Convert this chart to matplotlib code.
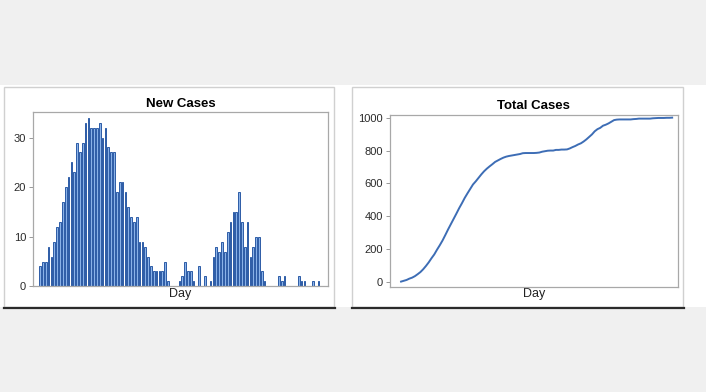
import numpy as np
import matplotlib
matplotlib.use('Agg')
import matplotlib.pyplot as plt
from matplotlib.patches import Rectangle
from matplotlib.lines import Line2D

plt.rcParams['font.family'] = ['Liberation Sans', 'DejaVu Sans']

# data
new_cases = [4, 5, 5, 8, 6, 9, 12, 13, 17, 20,
             22, 25, 23, 29, 27, 29, 33, 34, 32, 32,
             32, 33, 30, 32, 28, 27, 27, 19, 21, 21,
             19, 16, 14, 13, 14, 9, 9, 8, 6, 4,
             3, 3, 3, 3, 5, 1, 0, 0, 0, 1,
             2, 5, 3, 3, 1, 0, 4, 0, 2, 0,
             1, 6, 8, 7, 9, 7, 11, 13, 15, 15,
             19, 13, 8, 13, 6, 8, 10, 10, 3, 1,
             0, 0, 0, 0, 2, 1, 2, 0, 0, 0,
             0, 2, 1, 1, 0, 0, 1, 0, 1]
total_cases = [4, 9, 14, 22, 28, 37, 49, 62, 79, 99,
               121, 146, 169, 198, 225, 254, 287, 321, 353, 385,
               417, 450, 480, 512, 540, 567, 594, 613, 634, 655,
               674, 690, 704, 717, 731, 740, 749, 757, 763, 767,
               770, 773, 776, 779, 784, 785, 785, 785, 785, 786,
               788, 793, 796, 799, 800, 800, 804, 804, 806, 806,
               807, 813, 821, 828, 837, 844, 855, 868, 883, 898,
               917, 930, 938, 951, 957, 965, 975, 985, 988, 989,
               989, 989, 989, 989, 991, 992, 994, 994, 994, 994,
               994, 996, 997, 998, 998, 998, 999, 999, 1000]
days = np.arange(len(new_cases))

W, H = 706, 392
fig = plt.figure(figsize=(W / 100, H / 100), dpi=100)
fig.patch.set_facecolor('#f0f0f0')

# white strip and panel frames
fig.patches.append(Rectangle((0, 1 - 307 / H), 1, 222 / H, transform=fig.transFigure,
                             facecolor='white', edgecolor='none', zorder=-3))
for x0, x1 in [(3.5, 334), (352, 683)]:
    fig.patches.append(Rectangle((x0 / W, 1 - 307 / H), (x1 - x0) / W, 220 / H,
                                 transform=fig.transFigure, facecolor='white',
                                 edgecolor='#d0d0d0', linewidth=1, zorder=-2))
    fig.lines.append(Line2D([x0 / W, (x1 + 1) / W], [1 - 307.5 / H, 1 - 307.5 / H],
                            transform=fig.transFigure, color='#2b2b2b', linewidth=1.6,
                            zorder=-1))

ax1 = fig.add_axes([33 / W, 1 - 286.3 / H, 295 / W, 174 / H])
ax2 = fig.add_axes([390 / W, 1 - 286.7 / H, 287.7 / W, 171.7 / H])

nz = [(d, v) for d, v in zip(days, new_cases) if v > 0]
ax1.bar([d for d, v in nz], [v for d, v in nz], width=0.6,
        color='#8ab2e8', edgecolor='#2d5ca6', linewidth=0.7)
ax1.set_xlim(-2.5, 101.3)
ax1.set_ylim(0, 35.1)
ax1.set_yticks([0, 10, 20, 30])
ax1.set_title('New Cases', fontsize=9.5, fontweight='bold', pad=4)

ax2.plot(days, total_cases, color='#3d6db5', linewidth=1.4)
ax2.set_xlim(-4, 100)
ax2.set_ylim(-27, 1016)
ax2.set_yticks([0, 200, 400, 600, 800, 1000])
ax2.set_title('Total Cases', fontsize=9.5, fontweight='bold', pad=4)

for ax in (ax1, ax2):
    ax.set_xticks([])
    ax.set_xlabel('Day', fontsize=9, labelpad=1, color='#222222')
    ax.tick_params(axis='y', labelsize=8, length=3, width=0.6,
                   color='#888888', labelcolor='#2a2a2a', pad=2)
    for s in ax.spines.values():
        s.set_color('#a8a8a8')
        s.set_linewidth(0.9)

plt.savefig('out.png', dpi=100, facecolor=fig.get_facecolor())
